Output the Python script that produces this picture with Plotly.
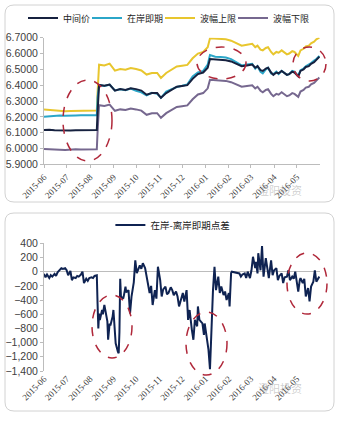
import plotly.graph_objects as go

# ---------------- data ----------------
dates_top = [
    "2015-06-01", "2015-06-08", "2015-06-15", "2015-06-22", "2015-06-29",
    "2015-07-06", "2015-07-13", "2015-07-20", "2015-07-27",
    "2015-08-03", "2015-08-10", "2015-08-11", "2015-08-12", "2015-08-13", "2015-08-20", "2015-08-27",
    "2015-09-03", "2015-09-10", "2015-09-17", "2015-09-24",
    "2015-10-01", "2015-10-08", "2015-10-15", "2015-10-22", "2015-10-29",
    "2015-11-03", "2015-11-10", "2015-11-17", "2015-11-24",
    "2015-12-01", "2015-12-08", "2015-12-15", "2015-12-22", "2015-12-29",
    "2016-01-04", "2016-01-07", "2016-01-14", "2016-01-21", "2016-01-28",
    "2016-02-04", "2016-02-11", "2016-02-18", "2016-02-25",
    "2016-03-03", "2016-03-07", "2016-03-10", "2016-03-14", "2016-03-17", "2016-03-21", "2016-03-24", "2016-03-28", "2016-03-31",
    "2016-04-04", "2016-04-07", "2016-04-11", "2016-04-14", "2016-04-18", "2016-04-21", "2016-04-25", "2016-04-28",
    "2016-05-03", "2016-05-06", "2016-05-10", "2016-05-13", "2016-05-17", "2016-05-20", "2016-05-24", "2016-05-27", "2016-05-31",
]

mid_rate = [
    6.1160, 6.1180, 6.1150, 6.1140, 6.1110,
    6.1140, 6.1150, 6.1160, 6.1170,
    6.1160, 6.1160, 6.2298, 6.3306, 6.4010, 6.3960, 6.4040,
    6.3650, 6.3750, 6.3700, 6.3800,
    6.3750, 6.3660, 6.3400, 6.3500, 6.3500,
    6.3200, 6.3500, 6.3700, 6.3900,
    6.3950, 6.4000, 6.4400, 6.4700, 6.4800,
    6.5100, 6.5650, 6.5630, 6.5600, 6.5580,
    6.5500, 6.5350, 6.5200, 6.5250,
    6.5300, 6.5100, 6.5200, 6.4950, 6.4900, 6.5050, 6.5100, 6.4800, 6.4650,
    6.4800, 6.4750, 6.4900, 6.4800, 6.4650, 6.4700, 6.4850, 6.4800,
    6.4550, 6.4900, 6.5000, 6.5150, 6.5200, 6.5350, 6.5450, 6.5600, 6.5800,
]

onshore_spot = [
    6.2000, 6.2030, 6.2060, 6.2080, 6.2070,
    6.2100, 6.2090, 6.2100, 6.2110,
    6.2100, 6.2100, 6.3200, 6.3870, 6.4010, 6.3950, 6.4030,
    6.3670, 6.3740, 6.3680, 6.3790,
    6.3650, 6.3550, 6.3350, 6.3520, 6.3450,
    6.3200, 6.3600, 6.3750, 6.3880,
    6.3960, 6.4050, 6.4550, 6.4800, 6.4900,
    6.5300, 6.5900, 6.5800, 6.5780, 6.5750,
    6.5650, 6.5450, 6.5250, 6.5300,
    6.5350, 6.5050, 6.5200, 6.4850, 6.4750, 6.5000, 6.5100, 6.4750, 6.4700,
    6.4850, 6.4700, 6.4900, 6.4780, 6.4650, 6.4700, 6.4900, 6.4850,
    6.4600, 6.4950, 6.5050, 6.5200, 6.5300, 6.5400, 6.5550, 6.5650, 6.5850,
]

band_upper = [
    6.2470, 6.2440, 6.2420, 6.2400, 6.2350,
    6.2370, 6.2380, 6.2400, 6.2410,
    6.2400, 6.2400, 6.3540, 6.4570, 6.5290, 6.5240, 6.5360,
    6.4920, 6.5020, 6.4970, 6.5080,
    6.5020, 6.4930, 6.4670, 6.4770, 6.4770,
    6.4460, 6.4770, 6.4970, 6.5180,
    6.5230, 6.5280, 6.5700, 6.6000, 6.6100,
    6.6400, 6.6960, 6.6950, 6.6920, 6.6900,
    6.6810, 6.6660, 6.6500, 6.6560,
    6.6610, 6.6400, 6.6500, 6.6250, 6.6200, 6.6350, 6.6400, 6.6100, 6.5950,
    6.6100, 6.6050, 6.6200, 6.6100, 6.5950, 6.6000, 6.6150, 6.6100,
    6.5850, 6.6200, 6.6300, 6.6450, 6.6500, 6.6650, 6.6750, 6.6900, 6.7000,
]

band_lower = [
    5.9960, 5.9960, 5.9940, 5.9920, 5.9900,
    5.9930, 5.9950, 5.9940, 5.9950,
    5.9950, 5.9950, 6.1050, 6.2040, 6.2730, 6.2680, 6.2770,
    6.2380, 6.2470, 6.2430, 6.2520,
    6.2470, 6.2390, 6.2130, 6.2230, 6.2230,
    6.1940, 6.2230, 6.2430, 6.2620,
    6.2670, 6.2720, 6.3110, 6.3410, 6.3500,
    6.3800, 6.4340, 6.4320, 6.4290, 6.4270,
    6.4190, 6.4040, 6.3900, 6.3950,
    6.3990, 6.3800, 6.3900, 6.3650, 6.3550, 6.3700, 6.3750, 6.3450, 6.3300,
    6.3450, 6.3400, 6.3550, 6.3450, 6.3300, 6.3350, 6.3500, 6.3450,
    6.3260, 6.3600, 6.3700, 6.3850, 6.3900, 6.4050, 6.4140, 6.4290, 6.4480,
]

spread_dates = [
    "2015-06-01", "2015-06-03", "2015-06-05", "2015-06-08", "2015-06-10", "2015-06-12", "2015-06-15",
    "2015-06-17", "2015-06-19", "2015-06-22", "2015-06-24", "2015-06-26", "2015-06-29", "2015-07-01",
    "2015-07-03", "2015-07-06", "2015-07-08", "2015-07-10", "2015-07-13", "2015-07-15", "2015-07-17",
    "2015-07-20", "2015-07-22", "2015-07-24", "2015-07-27", "2015-07-29", "2015-07-31", "2015-08-03",
    "2015-08-05", "2015-08-07", "2015-08-10", "2015-08-11", "2015-08-12", "2015-08-13", "2015-08-14",
    "2015-08-17", "2015-08-18", "2015-08-20", "2015-08-21", "2015-08-24", "2015-08-25", "2015-08-27",
    "2015-08-28", "2015-08-31", "2015-09-01", "2015-09-02", "2015-09-04", "2015-09-07", "2015-09-08",
    "2015-09-09", "2015-09-10", "2015-09-11", "2015-09-14", "2015-09-15", "2015-09-17", "2015-09-18",
    "2015-09-21", "2015-09-23", "2015-09-25", "2015-09-28", "2015-09-30", "2015-10-02", "2015-10-06",
    "2015-10-08", "2015-10-10", "2015-10-13", "2015-10-15", "2015-10-19", "2015-10-21", "2015-10-23",
    "2015-10-26", "2015-10-28", "2015-10-30", "2015-11-02", "2015-11-04", "2015-11-06", "2015-11-09",
    "2015-11-11", "2015-11-13", "2015-11-16", "2015-11-18", "2015-11-20", "2015-11-23", "2015-11-25",
    "2015-11-27", "2015-11-30", "2015-12-02", "2015-12-04", "2015-12-07", "2015-12-09", "2015-12-11",
    "2015-12-14", "2015-12-16", "2015-12-18", "2015-12-21", "2015-12-22", "2015-12-24", "2015-12-28",
    "2015-12-30", "2015-12-31", "2016-01-04", "2016-01-05", "2016-01-07", "2016-01-08", "2016-01-11",
    "2016-01-13", "2016-01-15", "2016-01-18", "2016-01-20", "2016-01-22", "2016-01-25", "2016-01-27",
    "2016-01-29", "2016-02-01", "2016-02-02", "2016-02-04", "2016-02-05", "2016-02-15", "2016-02-17",
    "2016-02-19", "2016-02-22", "2016-02-24", "2016-02-26", "2016-02-29", "2016-03-02", "2016-03-04",
    "2016-03-07", "2016-03-08", "2016-03-10", "2016-03-11", "2016-03-14", "2016-03-16", "2016-03-18",
    "2016-03-21", "2016-03-23", "2016-03-25", "2016-03-28", "2016-03-30", "2016-04-01", "2016-04-04",
    "2016-04-06", "2016-04-08", "2016-04-11", "2016-04-13", "2016-04-15", "2016-04-18", "2016-04-20",
    "2016-04-22", "2016-04-25", "2016-04-27", "2016-04-29", "2016-05-03", "2016-05-05", "2016-05-06",
    "2016-05-09", "2016-05-11", "2016-05-13", "2016-05-16", "2016-05-18", "2016-05-20", "2016-05-23",
    "2016-05-25", "2016-05-27", "2016-05-31",
]

spread_vals = [
    -30, -80, -40, -90, -50, -70, -30,
    -60, -10, 30, 50, 40, 50, 20,
    -50, 10, -120, -80, -90, -60, -70,
    -40, 0, -160, -100, -130, -90, -80,
    -90, -60, -50, -450, -800, -590, -680,
    -540, -600, -470, -520, -700, -960, -730,
    -760, -630, -540, -700, -1010, -1130, -1150,
    -850, -100, -350, -380, -330, -210, -290,
    -260, -590, -350, -150, 160, -20, 90,
    40, 120, 50, -70, -300, -200, -470,
    -260, -380, 70, -120, -350, -250, -210,
    -320, -300, -220, -260, -330, -280, -350,
    -490, -380, -300, -420, -260, -680, -540,
    -820, -960, -680, -770, -490, -680, -730,
    -890, -730, -1010, -1100, -1375, -1010, -260,
    70, -260, -70, -300, -210, -330, -280,
    -400, -300, -490, -20, 0, -25, -70,
    -40, -25, -90, 0, -90, 20, 210,
    50, 140, -25, 260, 20, 360, -70,
    190, 60, -90, 160, -50, 20, 50,
    -120, -60, -25, -160, -80, -70, 20,
    -120, -70, -100, 0, -280, -120, -90,
    -160, -100, -350, -230, -420, -210, -140,
    20, -140, -70,
]

top_names = ["中间价", "在岸即期", "波幅上限", "波幅下限"]
spread_name = "在岸-离岸即期点差"
month_range = ["2015-06-01", "2016-05-31 20:00"]

# ---------------- styling ----------------
W, H = 339, 422
colors = ["#16213f", "#2ba6c8", "#e8c62e", "#76688f"]
legend_widths = [19, 28, 28, 38]
axis_grey = "#bcbcbc"
tick_font_x = dict(family="Liberation Serif", size=9, color="#404040")
tick_font_y = dict(family="Liberation Sans", size=10.5, color="#404040")
cjk = "Noto Sans CJK SC"


def px(x):
    return x / W


def py(y):
    return 1 - y / H


fig = go.Figure()
series = [mid_rate, onshore_spot, band_upper, band_lower]
order = [2, 3, 1, 0]  # draw order so the mid-rate sits on top
for i in order:
    fig.add_trace(go.Scatter(
        x=dates_top, y=series[i], mode="lines", name=top_names[i],
        line=dict(color=colors[i], width=2), xaxis="x", yaxis="y",
        legend="legend", legendrank=i + 1, legendwidth=legend_widths[i],
    ))

fig.add_trace(go.Scatter(
    x=spread_dates, y=spread_vals, mode="lines", name=spread_name,
    line=dict(color="#0f2352", width=2), xaxis="x2", yaxis="y2",
    legend="legend2",
))

xcommon = dict(
    type="date", range=month_range, dtick="M1", tick0="2015-06-01",
    tickformat="%Y-%m", tickangle=-45, tickfont=tick_font_x, automargin=False,
    showgrid=False, zeroline=False, domain=[px(44), px(320)],
)
ycommon = dict(showgrid=False, showline=True, linecolor=axis_grey, linewidth=1, automargin=False,
               ticks="outside", ticklen=3, tickcolor=axis_grey, tickfont=tick_font_y)


def rounded_rect(x0, y0, x1, y1, r):
    X0, X1 = px(x0), px(x1)
    Y0, Y1 = py(y0), py(y1)
    rx, ry = r / W, r / H
    return (f"M{X0+rx},{Y0} L{X1-rx},{Y0} Q{X1},{Y0} {X1},{Y0-ry} "
            f"L{X1},{Y1+ry} Q{X1},{Y1} {X1-rx},{Y1} L{X0+rx},{Y1} "
            f"Q{X0},{Y1} {X0},{Y1+ry} L{X0},{Y0-ry} Q{X0},{Y0} {X0+rx},{Y0} Z")


shapes = [
    dict(type="path", xref="paper", yref="paper", path=rounded_rect(5, 5, 334, 202, 9),
         line=dict(color="#d2d2d2", width=1), layer="below"),
    dict(type="path", xref="paper", yref="paper", path=rounded_rect(5, 213, 334, 411, 9),
         line=dict(color="#d2d2d2", width=1), layer="below"),
]
ellipses = [
    (63, 80, 112, 161), (197, 47, 246, 79), (293, 47, 326, 81),
    (92, 295, 132, 358), (186, 312, 227, 375), (287, 253, 327, 314),
]
for (a, b, c, d) in ellipses:
    shapes.append(dict(type="circle", xref="paper", yref="paper",
                       x0=px(a), x1=px(c), y0=py(d), y1=py(b),
                       line=dict(color="#b0283a", width=1.5, dash="dash")))

annotations = [
    dict(text="澄阳投资", xref="paper", yref="paper", x=px(304), y=py(190),
         showarrow=False, font=dict(family=cjk, size=11, color="rgba(150,150,150,0.45)")),
    dict(text="澄阳投资", xref="paper", yref="paper", x=px(304), y=py(398),
         showarrow=False, font=dict(family=cjk, size=11, color="rgba(150,150,150,0.45)")),
]

fig.update_layout(
    width=W, height=H, margin=dict(l=0, r=0, t=0, b=0, autoexpand=False),
    paper_bgcolor="white", plot_bgcolor="white",
    xaxis=dict(**xcommon, anchor="y", showline=True, linecolor=axis_grey,
               ticks="outside", ticklen=3, tickcolor=axis_grey),
    yaxis=dict(**ycommon, domain=[py(164.3), py(37.7)], range=[5.9, 6.7],
               dtick=0.1, tick0=5.9, tickformat=".4f", zeroline=False, anchor="x"),
    xaxis2=dict(**xcommon, anchor="y2", showline=False, ticks=""),
    yaxis2=dict(**ycommon, domain=[py(371), py(243.3)], range=[-1400, 400],
                dtick=200, tick0=0, tickformat=",", zeroline=True,
                zerolinecolor=axis_grey, zerolinewidth=1, anchor="x2"),
    legend=dict(orientation="h", x=0.5, xanchor="center", y=py(18), yanchor="middle",
                font=dict(family=cjk, size=9, color="#222"), bgcolor="rgba(0,0,0,0)",
                traceorder="normal", itemwidth=30, tracegroupgap=0),
    legend2=dict(orientation="h", x=0.51, xanchor="center", y=py(225), yanchor="middle",
                 font=dict(family=cjk, size=9.5, color="#222"), bgcolor="rgba(0,0,0,0)"),
    shapes=shapes, annotations=annotations,
)

fig.write_html("out.html")
